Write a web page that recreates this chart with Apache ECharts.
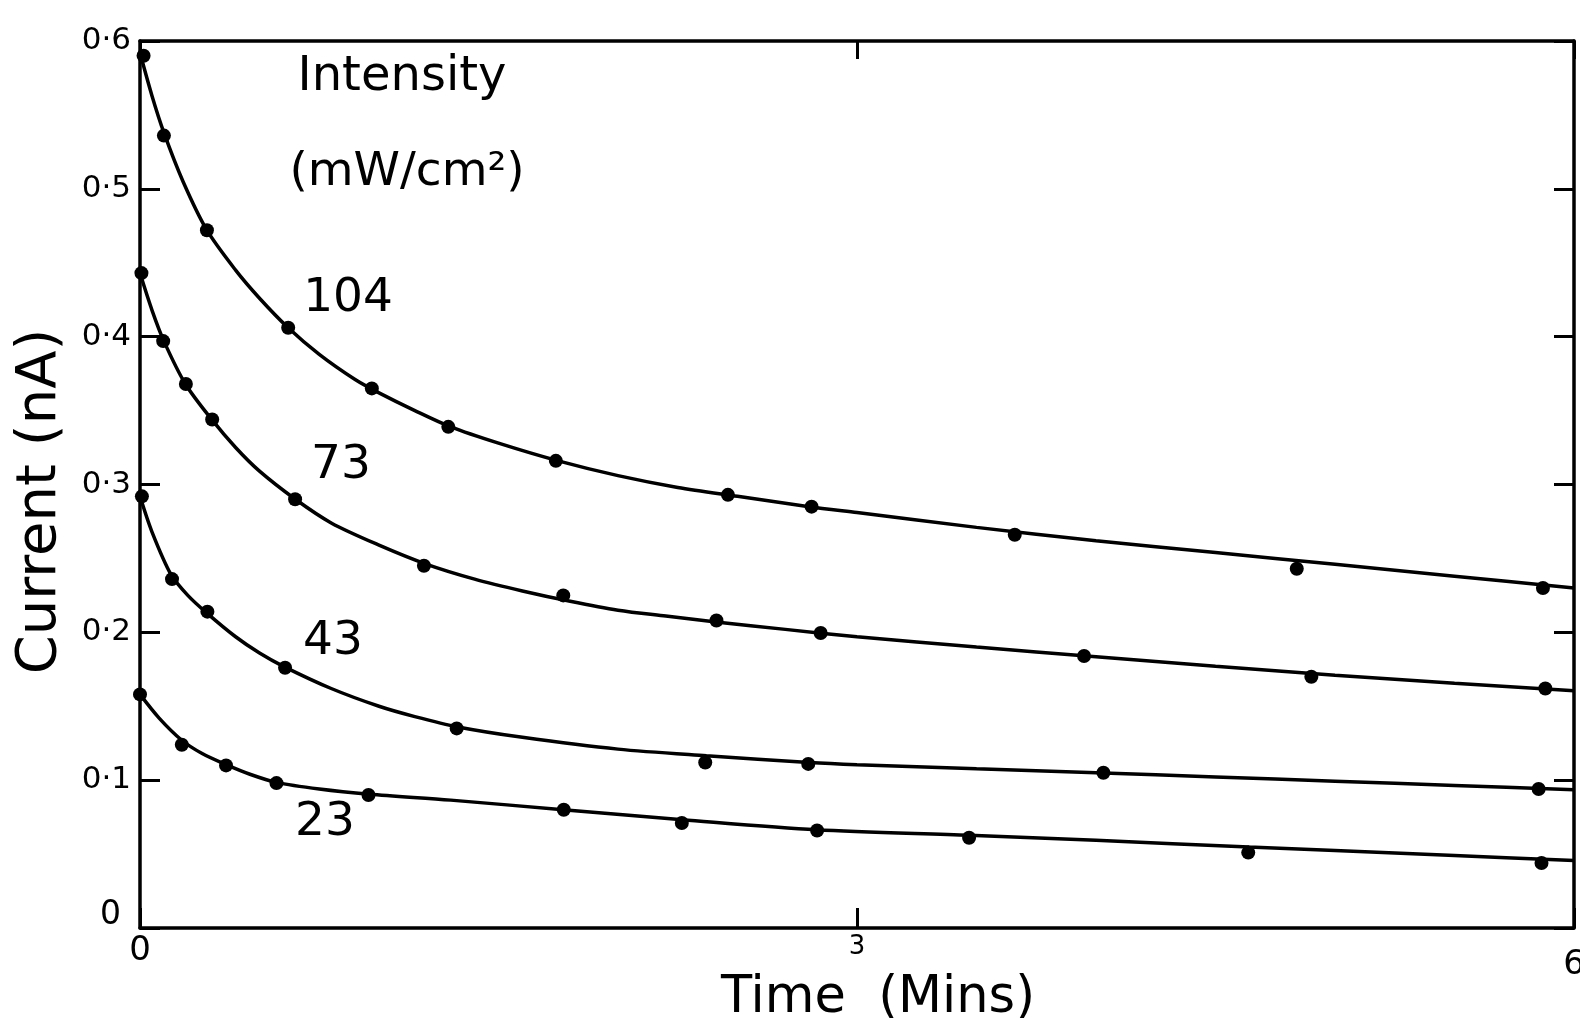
<!DOCTYPE html>
<html>
<head>
<meta charset="utf-8">
<script src="https://cdn.jsdelivr.net/npm/echarts@6/dist/echarts.min.js"></script>
<style>
html,body{margin:0;padding:0;background:#fff;}
#chart{width:1580px;height:1018px;}
</style>
</head>
<body>
<div id="chart"></div>
<script>
// ---- data ----
const intensities = ['104', '73', '43', '23'];

// measured points (time in minutes, current in nA)
const pts104T = [0.015, 0.10, 0.28, 0.62, 0.97, 1.29, 1.74, 2.46, 2.81, 3.66, 4.84, 5.87];
const pts104I = [0.590, 0.536, 0.472, 0.406, 0.365, 0.339, 0.316, 0.293, 0.285, 0.266, 0.243, 0.230];

const pts73T = [0.006, 0.097, 0.192, 0.302, 0.649, 1.188, 1.771, 2.412, 2.848, 3.950, 4.901, 5.880];
const pts73I = [0.443, 0.397, 0.368, 0.344, 0.290, 0.245, 0.225, 0.208, 0.1995, 0.184, 0.170, 0.162];

const pts43T = [0.008, 0.134, 0.282, 0.607, 1.325, 2.365, 2.796, 4.031, 5.852];
const pts43I = [0.292, 0.236, 0.214, 0.176, 0.135, 0.112, 0.111, 0.105, 0.094];

const pts23T = [0.0, 0.175, 0.360, 0.571, 0.956, 1.773, 2.267, 2.833, 3.469, 4.637, 5.864];
const pts23I = [0.158, 0.124, 0.110, 0.098, 0.090, 0.080, 0.071, 0.066, 0.061, 0.051, 0.044];

// drawn fitted curves
const fit104T = [0, 0.05, 0.1, 0.18, 0.28, 0.4, 0.5, 0.62, 0.75, 0.9, 1.0, 1.15, 1.3, 1.5, 1.75, 2.0, 2.25, 2.5, 2.8, 3.0, 3.5, 4.0, 4.5, 5.0, 5.5, 6.0];
const fit104I = [0.592, 0.563, 0.538, 0.505, 0.472, 0.445, 0.426, 0.406, 0.388, 0.371, 0.362, 0.350, 0.339, 0.328, 0.316, 0.306, 0.298, 0.292, 0.285, 0.281, 0.271, 0.262, 0.254, 0.246, 0.238, 0.230];

const fit73T = [0, 0.05, 0.1, 0.19, 0.3, 0.4, 0.5, 0.65, 0.8, 1.0, 1.2, 1.4, 1.6, 1.8, 2.0, 2.2, 2.41, 2.7, 3.0, 3.5, 4.0, 4.5, 5.0, 5.5, 6.0];
const fit73I = [0.443, 0.418, 0.397, 0.368, 0.344, 0.325, 0.309, 0.290, 0.274, 0.259, 0.246, 0.236, 0.228, 0.221, 0.215, 0.211, 0.207, 0.202, 0.197, 0.190, 0.1835, 0.177, 0.171, 0.1655, 0.1605];

const fit43T = [0, 0.05, 0.13, 0.2, 0.28, 0.4, 0.5, 0.6, 0.8, 1.0, 1.15, 1.33, 1.6, 2.0, 2.37, 2.8, 3.0, 3.5, 4.0, 4.5, 5.0, 5.5, 6.0];
const fit43I = [0.292, 0.268, 0.239, 0.225, 0.213, 0.197, 0.186, 0.177, 0.162, 0.150, 0.143, 0.136, 0.129, 0.121, 0.1165, 0.112, 0.1105, 0.1077, 0.105, 0.1022, 0.0993, 0.0964, 0.0935];

const fit23T = [0, 0.08, 0.175, 0.26, 0.36, 0.46, 0.57, 0.75, 0.96, 1.3, 1.77, 2.27, 2.83, 3.47, 4.0, 4.64, 5.0, 5.5, 6.0];
const fit23I = [0.158, 0.142, 0.127, 0.118, 0.1105, 0.104, 0.0985, 0.094, 0.0905, 0.0865, 0.0800, 0.0733, 0.0665, 0.0628, 0.0593, 0.0548, 0.0524, 0.0490, 0.0457];

const xTickLabels = ['0', '3', '6'];
const yTickLabels = ['0', '0·1', '0·2', '0·3', '0·4', '0·5', '0·6'];

// ---- chart ----
const zip = (a, b) => a.map((v, i) => [v, b[i]]);
const FONT = 'DejaVu Sans';
const black = '#000';

const pointSets = [zip(pts104T, pts104I), zip(pts73T, pts73I), zip(pts43T, pts43I), zip(pts23T, pts23I)];
const fitSets = [zip(fit104T, fit104I), zip(fit73T, fit73I), zip(fit43T, fit43I), zip(fit23T, fit23I)];

const series = [];
fitSets.forEach((d, i) => {
  series.push({
    name: intensities[i] + ' fit', type: 'line', data: d, smooth: 0.3,
    showSymbol: false, lineStyle: {color: black, width: 3.5}, silent: true, z: 2
  });
});
pointSets.forEach((d, i) => {
  series.push({
    name: intensities[i], type: 'scatter', data: d, symbol: 'circle', symbolSize: 14,
    itemStyle: {color: black, opacity: 1}, z: 3
  });
});

const chart = echarts.init(document.getElementById('chart'), null, {renderer: 'canvas'});
const axisLine = {show: true, onZero: false, lineStyle: {color: black, width: 3.5}};
const tickStyle = {color: black, width: 3};
const textStyle = (t, x, y, size) => ({type: 'text', x: x, y: y,
  style: {text: t, font: size + 'px "DejaVu Sans"', fill: black, textAlign: 'center', textVerticalAlign: 'middle'}});

chart.setOption({
  backgroundColor: '#fff',
  animation: false,
  grid: {left: 140, right: 6, top: 41, bottom: 90, containLabel: false, outerBoundsMode: 'none'},
  xAxis: [{
    type: 'value', min: 0, max: 6, interval: 3, position: 'bottom',
    axisLine: axisLine, splitLine: {show: false},
    axisTick: {show: true, inside: true, length: 20, lineStyle: tickStyle},
    axisLabel: {
      margin: 6, color: black, fontFamily: FONT, fontSize: 30,
      formatter: v => '{t' + Math.round(v / 3) + '|' + xTickLabels[Math.round(v / 3)] + '}',
      rich: {
        t0: {fontSize: 34, fontFamily: FONT, color: black},
        t1: {fontSize: 26, fontFamily: FONT, color: black},
        t2: {fontSize: 34, fontFamily: FONT, color: black, padding: [14, 0, 0, 0]}
      }
    },
    name: 'Time  (Mins)', nameLocation: 'middle', nameGap: 45, nameMoveOverlap: false,
    nameTextStyle: {fontFamily: FONT, fontSize: 51, color: black, padding: [0, 0, 0, 42]}
  }, {
    type: 'value', min: 0, max: 6, interval: 3, position: 'top',
    axisLine: axisLine, splitLine: {show: false}, axisLabel: {show: false},
    axisTick: {show: true, inside: true, length: 18, lineStyle: tickStyle}
  }],
  yAxis: [{
    type: 'value', min: 0, max: 0.6, interval: 0.1, position: 'left',
    axisLine: axisLine, splitLine: {show: false},
    axisTick: {show: true, inside: true, length: 20, lineStyle: tickStyle},
    axisLabel: {
      margin: 9, color: black, fontFamily: FONT, fontSize: 31,
      formatter: v => {
        const i = Math.round(v / 0.1);
        return i === 0 ? '{z|' + yTickLabels[0] + '}' : yTickLabels[i];
      },
      rich: {z: {fontSize: 33, fontFamily: FONT, color: black, padding: [0, 10, 26, 0]}}
    },
    name: 'Current (nA)', nameLocation: 'middle', nameGap: 72, nameMoveOverlap: false,
    nameTextStyle: {fontFamily: FONT, fontSize: 56, color: black, padding: [0, 34, 0, 0]}
  }, {
    type: 'value', min: 0, max: 0.6, interval: 0.1, position: 'right',
    axisLine: axisLine, splitLine: {show: false}, axisLabel: {show: false},
    axisTick: {show: true, inside: true, length: 20, lineStyle: tickStyle}
  }],
  series: series,
  graphic: [
    textStyle('Intensity', 402, 78, 48),
    textStyle('(mW/cm²)', 407, 173, 47),
    textStyle(intensities[0], 348, 299, 47),
    textStyle(intensities[1], 341, 466, 47),
    textStyle(intensities[2], 333, 642, 47),
    textStyle(intensities[3], 325, 823, 47)
  ]
});
</script>
</body>
</html>
